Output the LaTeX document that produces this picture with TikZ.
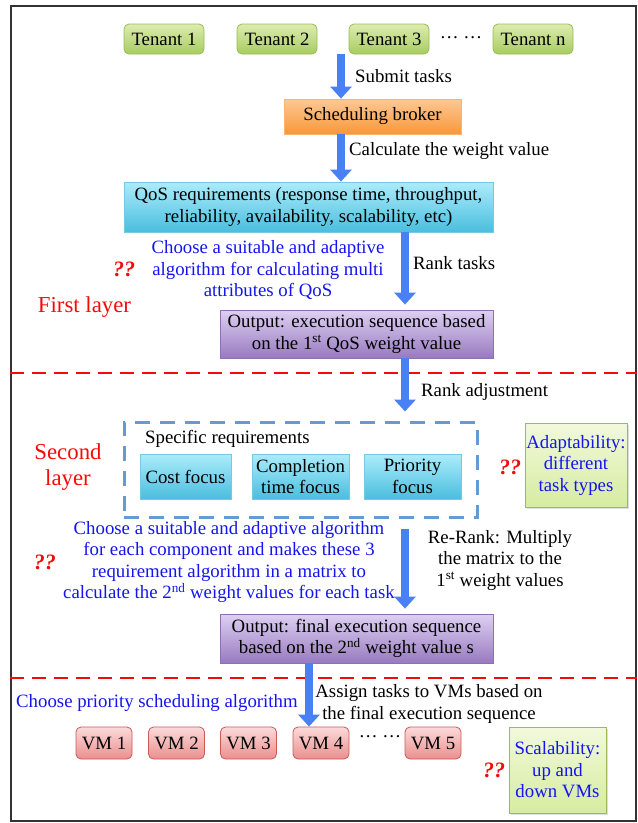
\documentclass[tikz,border=0pt]{standalone}
\usepackage{fontspec}
\setmainfont{Liberation Serif}
\usetikzlibrary{arrows.meta,shadows}
\definecolor{arrowblue}{RGB}{74,128,245}
\definecolor{grtop}{RGB}{220,236,175}
\definecolor{grbot}{RGB}{168,204,96}
\definecolor{grline}{RGB}{155,187,89}
\definecolor{ortop}{RGB}{253,200,148}
\definecolor{orbot}{RGB}{248,152,58}
\definecolor{orline}{RGB}{250,180,110}
\definecolor{cytop}{RGB}{172,236,251}
\definecolor{cybot}{RGB}{74,190,222}
\definecolor{cyline}{RGB}{120,200,225}
\definecolor{putop}{RGB}{222,208,242}
\definecolor{pubot}{RGB}{152,122,192}
\definecolor{puline}{RGB}{140,112,178}
\definecolor{vmtop}{RGB}{251,218,218}
\definecolor{vmbot}{RGB}{236,142,142}
\definecolor{vmline}{RGB}{200,90,88}
\definecolor{notetop}{RGB}{242,249,220}
\definecolor{notebot}{RGB}{214,236,160}
\definecolor{dashblue}{RGB}{100,155,215}
\definecolor{txtblue}{RGB}{20,20,240}
\definecolor{txtred}{RGB}{245,10,10}
\begin{document}
\begin{tikzpicture}[x=1pt,y=-1pt,
  every node/.style={font=\fontsize{18.8}{21.5}\selectfont, inner sep=0pt, align=center},
  tenant/.style={draw=grline, line width=0.8pt, rounded corners=5pt, top color=grtop, bottom color=grbot, minimum width=80pt, minimum height=30pt},
  vmbox/.style={draw=vmline, line width=0.8pt, rounded corners=5pt, top color=vmtop, bottom color=vmbot, minimum width=56pt, minimum height=32pt},
  brokerbox/.style={draw=orline, line width=0.8pt, top color=ortop, bottom color=orbot, minimum width=177pt, minimum height=35pt},
  cybox/.style={draw=cyline, line width=0.8pt, top color=cytop, bottom color=cybot},
  pubox/.style={draw=puline, line width=0.8pt, top color=putop, bottom color=pubot, minimum width=273pt},
  notebox/.style={draw=grline, line width=1pt, top color=notetop, bottom color=notebot, text=txtblue, drop shadow={opacity=0.25, shadow xshift=2pt, shadow yshift=-2pt}},
  bigarrow/.style={draw=arrowblue, line width=8pt, -{Triangle[width=21pt,length=12pt]}},
  reddash/.style={draw=txtred, line width=2.6pt, dash pattern=on 14pt off 8pt},
  bluetext/.style={text=txtblue},
  redtext/.style={text=txtred, font=\fontsize{22.8}{26}\selectfont},
  qq/.style={text=txtred, font=\fontsize{22}{24}\selectfont\bfseries\itshape},
  lbl/.style={anchor=west}
]
\useasboundingbox (0,0) rectangle (638,823);
% frame
\node[draw=black!80, line width=1.3pt, minimum width=625pt, minimum height=815pt] (frame) at (323.5,413.5) {};

% tenants
\node[tenant] (t1) at (164,39) {Tenant 1};
\node[tenant] (t2) at (277,39) {Tenant 2};
\node[tenant] (t3) at (389,39) {Tenant 3};
\node (tdots) at (461,38) {\dots\ \dots};
\node[tenant] (tn) at (533,39) {Tenant n};

\node[brokerbox] (broker) at (372.5,116.5) {\raisebox{-2pt}{Scheduling broker}};
\node[cybox, minimum width=369pt, minimum height=50pt] (qos) at (308.5,207) {QoS requirements (response time, throughput,\\reliability, availability, scalability, etc)};
\node[pubox, minimum height=48pt] (out1) at (356.5,334) {Output: execution sequence based\\on the 1\textsuperscript{st} QoS weight value};

% arrow x positions
\coordinate (a1x) at (341,0);
\coordinate (a3x) at (405,0);
\coordinate (a6x) at (309,0);

\draw[bigarrow] (t3.south -| a1x) -- (broker.north -| a1x);
\node[lbl] (submit) at (355,76) {Submit tasks};
\draw[bigarrow] (broker.south -| a1x) -- (qos.north -| a1x);
\node[lbl] (calc) at (349,151) {Calculate the weight value};
\draw[bigarrow, shorten >=5pt] (qos.south -| a3x) -- (out1.north -| a3x);
\node[lbl] (ranktasks) at (413,263) {Rank tasks};
\node[bluetext] (blue1) at (268,270) {Choose a suitable and adaptive\\algorithm for calculating multi\\attributes of QoS};
\node[qq] (qq1) at (124,269) {??};
\node[redtext] (first) at (84.5,307) {First layer};

% first dashed separator
\draw[reddash] (frame.west |- 0,373) -- (frame.east |- 0,373);

% second layer
\node[draw=dashblue, line width=3pt, dash pattern=on 15pt off 10pt, minimum width=353pt, minimum height=95pt] (req) at (300.5,469.5) {};
\draw[bigarrow, shorten >=9pt] (out1.south -| a3x) -- (req.north -| a3x);
\node[lbl] (rankadj) at (421,392) {Rank adjustment};
\node[lbl] (spec) at (145,439) {Specific requirements};
\node[cybox, minimum width=91pt, minimum height=45pt] (cost) at (185.5,476.5) {Cost focus};
\node[cybox, minimum width=97pt, minimum height=45pt] (comp) at (300.5,476.5) {Completion\\time focus};
\node[cybox, minimum width=97pt, minimum height=45pt] (prio) at (412.5,476.5) {Priority\\focus};
\node[redtext] (second) at (68,467) {Second\\layer};
\node[qq] (qq2) at (510,467) {??};
\node[notebox, minimum width=102pt, minimum height=84pt] (adapt) at (576,465) {Adaptability:\\different\\task types};

\node[pubox, minimum height=49pt] (out2) at (356.5,638.5) {Output: final execution sequence\\based on the 2\textsuperscript{nd} weight value s};
\draw[bigarrow, shorten <=10pt, shorten >=5pt] (req.south -| a3x) -- (out2.north -| a3x);
\node[bluetext] (blue2) at (229,562) {Choose a suitable and adaptive algorithm\\for each component and makes these 3\\requirement algorithm in a matrix to\\calculate the 2\textsuperscript{nd} weight values for each task};
\node[qq] (qq3) at (45,562) {??};
\node (rerank) at (500,560) {Re-Rank: Multiply\\the matrix to the\\1\textsuperscript{st} weight values};

% second dashed separator
\draw[reddash] (frame.west |- 0,678) -- (frame.east |- 0,678);

% VMs
\node[vmbox] (vm1) at (104,743) {VM 1};
\node[vmbox] (vm2) at (176.5,743) {VM 2};
\node[vmbox] (vm3) at (248.5,743) {VM 3};
\node[vmbox] (vm4) at (321,743) {VM 4};
\node (vdots) at (380,737) {\dots\ \dots};
\node[vmbox] (vm5) at (433,743) {VM 5};
\draw[bigarrow] (out2.south -| a6x) -- (vm4.north -| a6x);
\node[bluetext, lbl] (choosepri) at (16,703) {Choose priority scheduling algorithm};
\node (assign) at (429,704) {Assign tasks to VMs based on\\the final execution sequence};
\node[notebox, minimum width=97pt, minimum height=86pt] (scal) at (557.5,770) {Scalability:\\up and\\down VMs};
\node[qq] (qq4) at (494,770) {??};
\end{tikzpicture}
\end{document}
